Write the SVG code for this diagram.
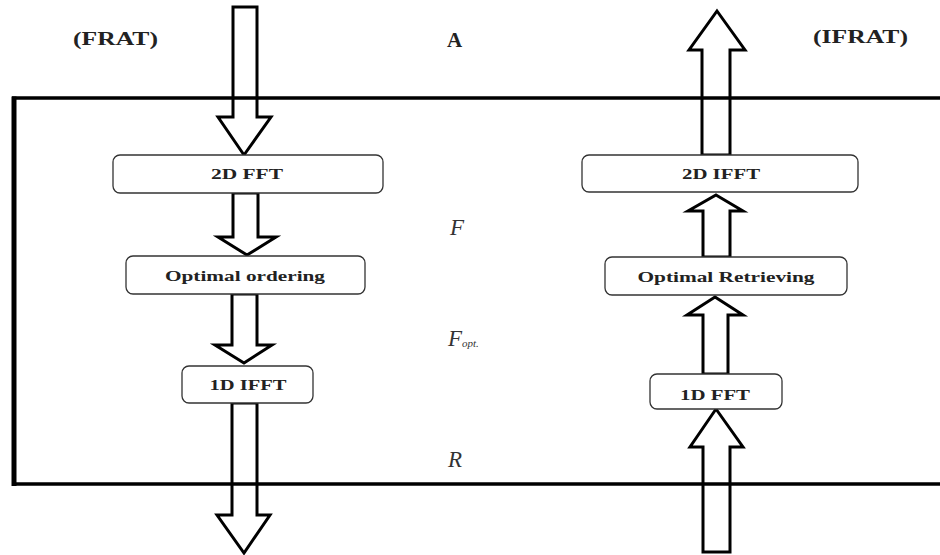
<svg xmlns="http://www.w3.org/2000/svg" width="940" height="555" viewBox="0 0 940 555">
<style>
.arrow{fill:#fff;stroke:#000;stroke-width:3;stroke-linejoin:miter}
.box rect{fill:#fff;stroke:#333;stroke-width:1.3}
.box text{font-family:"Liberation Serif",serif;font-weight:bold;font-size:15px;fill:#222;text-anchor:middle}
.lbl{font-family:"Liberation Serif",serif;font-weight:bold;font-size:18px;fill:#222}
.big{font-size:21px}
.math{font-family:"Liberation Serif",serif;font-style:italic;font-size:23px;fill:#333}
.sub{font-size:11px}
.frame{fill:none;stroke:#000}
</style>
<rect width="940" height="555" fill="#fff"/>
<g id="connectors">
<polygon class="arrow" points="233,7 257,7 257,117 271,117 244,155 218,117 233,117"/>
<polygon class="arrow" points="233,193 258,193 258,237 276,237 247,255 218,237 233,237"/>
<polygon class="arrow" points="232,294 257,294 257,345 272,345 244,363 215,345 232,345"/>
<polygon class="arrow" points="232,403 257,403 257,515 270,515 244,553 217,515 232,515"/>
<polygon class="arrow" points="717,11 745,50 730,50 730,155 702,155 702,50 689,50"/>
<polygon class="arrow" points="716,195 743,211 730,211 730,257 703,257 703,211 688,211"/>
<polygon class="arrow" points="715,297 743,315 728,315 728,374 703,374 703,315 687,315"/>
<polygon class="arrow" points="716,409 743,447 730,447 730,552 703,552 703,447 690,447"/>
</g>
<g id="frame">
<line class="frame" x1="12" y1="98" x2="940" y2="98" stroke-width="3.5"/>
<line class="frame" x1="14" y1="96.5" x2="14" y2="486" stroke-width="5"/>
<line class="frame" x1="12" y1="484" x2="940" y2="484" stroke-width="3.5"/>
</g>
<g id="n-2dfft" class="box"><rect x="113" y="155" width="270" height="38" rx="7"/><text x="247" y="179" textLength="72" lengthAdjust="spacingAndGlyphs">2D FFT</text></g>
<g id="n-optord" class="box"><rect x="126" y="256" width="239" height="38" rx="7"/><text x="245" y="281" textLength="160" lengthAdjust="spacingAndGlyphs">Optimal ordering</text></g>
<g id="n-1difft" class="box"><rect x="182" y="366" width="131" height="37" rx="7"/><text x="248" y="390" textLength="77" lengthAdjust="spacingAndGlyphs">1D IFFT</text></g>
<g id="n-2difft" class="box"><rect x="582" y="155" width="276" height="37" rx="7"/><text x="721" y="179" textLength="78" lengthAdjust="spacingAndGlyphs">2D IFFT</text></g>
<g id="n-optret" class="box"><rect x="605" y="257" width="242" height="38" rx="7"/><text x="726" y="282" textLength="177" lengthAdjust="spacingAndGlyphs">Optimal Retrieving</text></g>
<g id="n-1dfft" class="box"><rect x="650" y="374" width="132" height="35" rx="7"/><text x="715" y="400" textLength="70" lengthAdjust="spacingAndGlyphs">1D FFT</text></g>
<g id="labels">
<text class="lbl" x="73" y="45" textLength="85" lengthAdjust="spacingAndGlyphs">(FRAT)</text>
<text class="lbl big" x="447" y="47">A</text>
<text class="lbl" x="813" y="43" textLength="95" lengthAdjust="spacingAndGlyphs">(IFRAT)</text>
<text class="math" x="450" y="235">F</text>
<text class="math" x="448" y="346">F<tspan class="sub" dy="1">opt.</tspan></text>
<text class="math" x="448" y="467">R</text>
</g>
</svg>
